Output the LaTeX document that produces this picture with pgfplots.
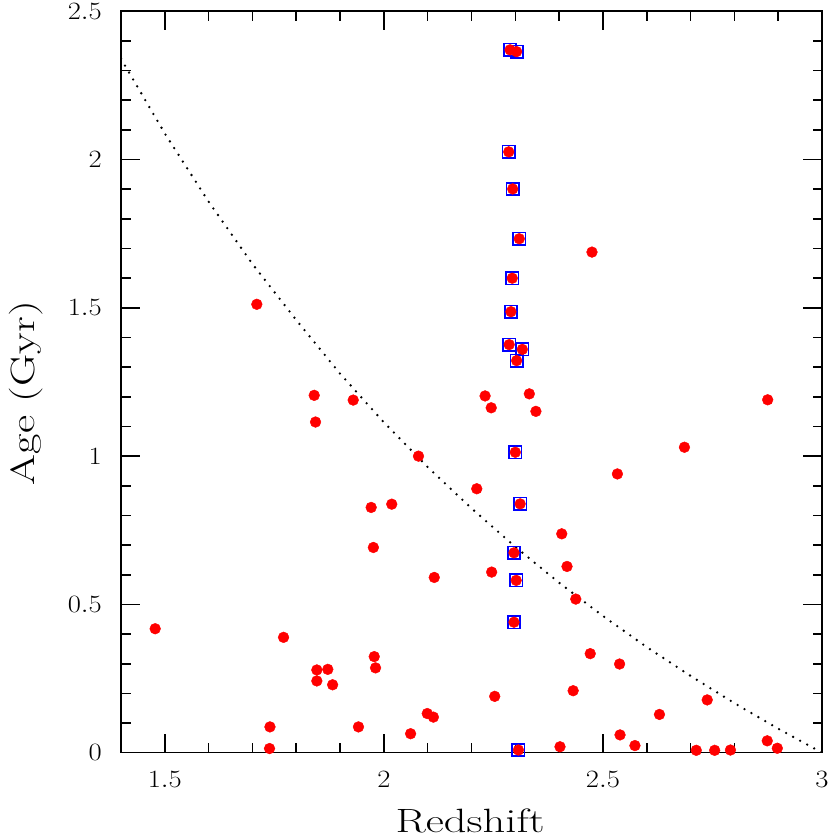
\documentclass[border=0pt]{standalone}
\usepackage{pgfplots}
\pgfplotsset{compat=1.18}
\usepackage{graphicx}
\pgfplotsset{tickline/.style={black, line width=1.6pt, forget plot, mark=none}}
\begin{document}
\begin{tikzpicture}
\begin{axis}[
  width=701pt, height=741.4pt, scale only axis,
  xmin=1.4, xmax=3, ymin=0, ymax=2.5,
  xtick={1.5,2,2.5,3}, ytick={0,0.5,1,1.5,2,2.5},
  minor x tick num=4, minor y tick num=4,
  major tick length=19pt, minor tick length=9.5pt,
  axis line style={line width=1.6pt},
  tick style={line width=1.6pt, black},
  xticklabel={\scalebox{1.15}[1]{$\pgfmathprintnumber{\tick}$}},
  yticklabel={\scalebox{1.15}[1]{$\pgfmathprintnumber{\tick}$}},
  xticklabel style={font=\fontsize{27}{30}\selectfont, anchor=base, yshift=-35pt, inner sep=0pt},
  yticklabel style={font=\fontsize{27}{30}\selectfont, anchor=east, xshift=-19pt, inner sep=0pt},
  xlabel={\scalebox{1.32}[1]{Redshift}},
  ylabel={\scalebox{1.32}[1]{Age (Gyr)}},
  label style={font=\fontsize{33.7}{40}\selectfont},
  xlabel style={at={(rel axis cs:0.498,-0.1070)}, anchor=base, inner sep=0pt},
  ylabel style={at={(rel axis cs:-0.1227,0.485)}, anchor=base, inner sep=0pt},
]
\coordinate (sw) at (rel axis cs:0,0);
\coordinate (ne) at (rel axis cs:1,1);
% tick marks on all four sides
\pgfplotsinvokeforeach{1.5,2,2.5}{
  \addplot[tickline] coordinates {(#1,0) (#1,0.0641)};
  \addplot[tickline] coordinates {(#1,2.5) (#1,2.4359)};
}
\pgfplotsinvokeforeach{1.6,1.7,1.8,1.9,2.1,2.2,2.3,2.4,2.6,2.7,2.8,2.9}{
  \addplot[tickline] coordinates {(#1,0) (#1,0.032)};
  \addplot[tickline] coordinates {(#1,2.5) (#1,2.468)};
}
\pgfplotsinvokeforeach{0.5,1,1.5,2}{
  \addplot[tickline] coordinates {(1.4,#1) (1.4434,#1)};
  \addplot[tickline] coordinates {(3,#1) (2.9566,#1)};
}
\pgfplotsinvokeforeach{0.1,0.2,0.3,0.4,0.6,0.7,0.8,0.9,1.1,1.2,1.3,1.4,1.6,1.7,1.8,1.9,2.1,2.2,2.3,2.4}{
  \addplot[tickline] coordinates {(1.4,#1) (1.4217,#1)};
  \addplot[tickline] coordinates {(3,#1) (2.9783,#1)};
}
% blue open squares
\addplot[only marks, mark=square, mark size=6.2pt, blue, mark options={line width=1.6pt, draw=blue, fill=none}] coordinates {
(2.288,2.370) (2.303,2.364) (2.285,2.026) (2.294,1.901) (2.309,1.733)
(2.293,1.600) (2.290,1.487) (2.286,1.376) (2.316,1.360) (2.303,1.322)
(2.300,1.013) (2.311,0.839) (2.297,0.674) (2.302,0.581) (2.297,0.440)
(2.307,0.009)
};
% red filled circles
\addplot[only marks, mark=*, mark size=5.4pt, red, mark options={draw=none, fill=red}] coordinates {
(2.288,2.370) (2.303,2.364) (2.285,2.026) (2.294,1.901) (2.309,1.733)
(2.293,1.600) (2.290,1.487) (2.286,1.376) (2.316,1.360) (2.303,1.322)
(2.300,1.013) (2.311,0.839) (2.297,0.674) (2.302,0.581) (2.297,0.440)
(2.307,0.009)
(1.710,1.512) (1.841,1.205) (1.930,1.189) (1.844,1.115) (2.079,1.000)
(2.212,0.890) (1.971,0.827) (2.018,0.838) (1.976,0.692) (2.115,0.591)
(1.478,0.418) (1.771,0.389) (1.847,0.279) (1.872,0.281) (1.847,0.242)
(1.883,0.229) (1.978,0.324) (1.981,0.286) (1.740,0.087) (1.739,0.014)
(1.942,0.087) (2.061,0.064) (2.099,0.132) (2.113,0.120) (2.231,1.203)
(2.245,1.163) (2.332,1.210) (2.347,1.151) (2.876,1.190) (2.686,1.030)
(2.533,0.940) (2.406,0.738) (2.246,0.609) (2.418,0.628) (2.438,0.518)
(2.471,0.334) (2.538,0.299) (2.253,0.190) (2.432,0.209) (2.738,0.178)
(2.629,0.129) (2.539,0.060) (2.573,0.024) (2.402,0.020) (2.713,0.008)
(2.755,0.008) (2.791,0.009) (2.875,0.040) (2.898,0.015) (2.475,1.688)
};
% dotted curve
\addplot[black, line width=2.6pt, line cap=round, dash pattern=on 0pt off 8pt] coordinates {
(1.4,2.340) (1.5,2.088) (1.6,1.858) (1.7,1.648) (1.8,1.459) (1.9,1.278)
(2.0,1.114) (2.1,0.963) (2.2,0.824) (2.3,0.694) (2.4,0.573) (2.5,0.461)
(2.6,0.356) (2.7,0.259) (2.8,0.167) (2.9,0.081) (3.0,0.0)
};
\end{axis}
\pgfresetboundingbox
\path ([xshift=-121pt,yshift=-84.3pt]sw) rectangle ([xshift=8pt,yshift=11.3pt]ne);
\end{tikzpicture}
\end{document}
